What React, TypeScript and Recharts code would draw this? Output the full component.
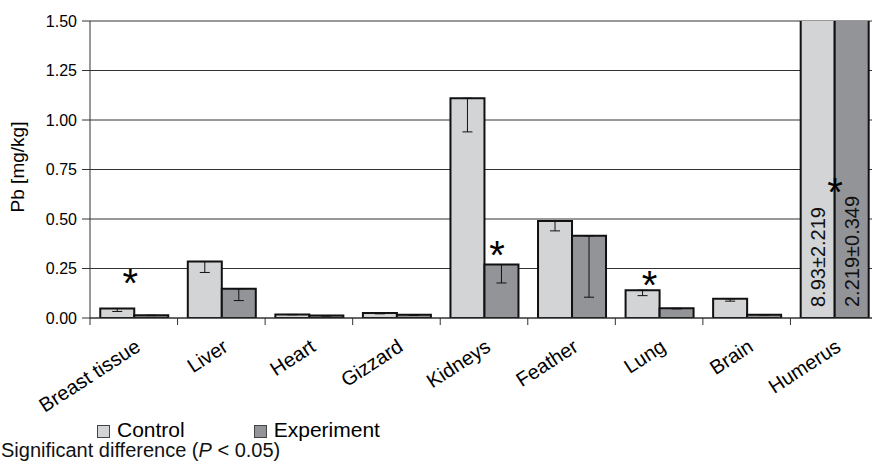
import { BarChart, Bar, XAxis, YAxis, CartesianGrid, ErrorBar, LabelList, ReferenceDot } from 'recharts';

const categories = ['Breast tissue', 'Liver', 'Heart', 'Gizzard', 'Kidneys', 'Feather', 'Lung', 'Brain', 'Humerus'];
const controlMean = [0.048, 0.285, 0.018, 0.025, 1.11, 0.49, 0.14, 0.097, 8.93];
const controlSd = [0.015, 0.055, 0.002, 0.004, 0.17, 0.05, 0.027, 0.012, 2.219];
const experimentMean = [0.014, 0.148, 0.012, 0.016, 0.27, 0.415, 0.049, 0.017, 2.219];
const experimentSd = [0.002, 0.06, 0.002, 0.003, 0.093, 0.31, 0.003, 0.002, 0.349];

// only the humerus values are off the scale, so they are written inside the bars
const offScale = ['Humerus'];

// significance stars, in data units (x along the category index, y in mg/kg)
const starX = [0.46, 4.65, 6.39, 8.51];
const starY = [0.217, 0.36, 0.209, 0.675];

const yTicks = [0, 0.25, 0.5, 0.75, 1, 1.25, 1.5];
// category boundaries, where the x axis has its tick marks
const edgeTicks = [0, 1, 2, 3, 4, 5, 6, 7, 8, 9];

const FONT = '"Liberation Sans", Arial, Helvetica, sans-serif';
const CONTROL = '#d3d4d6';
const EXPERIMENT = '#939498';

const data = categories.map((name, i) => ({
  name,
  pos: i + 0.5,
  control: controlMean[i],
  experiment: experimentMean[i],
  controlErr: [controlSd[i], 0],
  experimentErr: [experimentSd[i], 0],
  controlLabel: offScale.includes(name) ? `${controlMean[i]}±${controlSd[i]}` : '',
  experimentLabel: offScale.includes(name) ? `${experimentMean[i]}±${experimentSd[i]}` : '',
}));

function AngledTick(props: any) {
  const { x, y, payload } = props;
  const tx = x + 8;
  const ty = y + 31;
  return (
    <text
      x={tx}
      y={ty}
      textAnchor="end"
      transform={`rotate(-33, ${tx}, ${ty})`}
      fontSize={20}
      fontFamily={FONT}
      fill="#000"
    >
      {payload.value}
    </text>
  );
}

const NoLabel = () => <g />;

function InsideLabel(props: any) {
  const { x, y, width, height, value } = props;
  if (!value) return null;
  const cx = x + width / 2;
  const cy = y + height - 11;
  return (
    <text
      x={cx}
      y={cy}
      transform={`rotate(-90, ${cx}, ${cy})`}
      dominantBaseline="central"
      fontSize={20}
      fontFamily={FONT}
      fill="#111"
    >
      {value}
    </text>
  );
}

function Star(props: any) {
  const { cx, cy } = props;
  return (
    <text x={cx} y={cy + 22} textAnchor="middle" fontSize={40} fontFamily={FONT} fill="#000">
      *
    </text>
  );
}

function YTitle() {
  return (
    <text
      x={17}
      y={167}
      transform="rotate(-90, 17, 167)"
      textAnchor="middle"
      dominantBaseline="central"
      fontSize={19}
      fontFamily={FONT}
      fill="#000"
    >
      Pb [mg/kg]
    </text>
  );
}

function LegendItem({ color, label }: { color: string; label: string }) {
  return (
    <div style={{ display: 'flex', alignItems: 'center' }}>
      <span
        style={{
          display: 'inline-block',
          width: 11,
          height: 11,
          background: color,
          border: '1px solid #444',
          marginRight: 7,
          marginTop: 2,
        }}
      />
      <span>{label}</span>
    </div>
  );
}

export default function App() {
  return (
    <div
      style={{
        position: 'absolute',
        left: 0,
        top: 0,
        width: 872,
        height: 473,
        overflow: 'hidden',
        background: '#fff',
        fontFamily: FONT,
      }}
    >
      <BarChart
        width={882}
        height={421}
        data={data}
        margin={{ top: 21, right: 4, left: 30, bottom: 10 }}
        barCategoryGap="11.7%"
        barGap={0}
      >
        <CartesianGrid xAxisId="cat" vertical={false} stroke="#333" strokeWidth={1} />
        <XAxis
          xAxisId="cat"
          dataKey="name"
          height={92}
          interval={0}
          axisLine={false}
          tickLine={false}
          tickSize={0}
          tickMargin={0}
          tick={<AngledTick />}
        />
        <XAxis
          xAxisId="base"
          dataKey="pos"
          type="number"
          domain={[0, 9]}
          allowDataOverflow
          ticks={edgeTicks}
          interval={0}
          height={1}
          stroke="#333"
          tickLine={{ stroke: '#333' }}
          tickSize={7}
          tick={<NoLabel />}
        />
        <YAxis
          domain={[0, 1.5]}
          ticks={yTicks}
          allowDataOverflow
          width={60}
          tickSize={8}
          tickMargin={5}
          stroke="#333"
          tick={{ fontSize: 16, fill: '#000', fontFamily: FONT }}
          tickFormatter={(v: number) => v.toFixed(2)}
          label={<YTitle />}
        />
        <Bar xAxisId="cat" dataKey="control" name="Control" fill={CONTROL} stroke="#111" strokeWidth={2} isAnimationActive={false}>
          <ErrorBar dataKey="controlErr" direction="y" width={5} stroke="#111" strokeWidth={1} isAnimationActive={false} />
          <LabelList dataKey="controlLabel" content={<InsideLabel />} />
        </Bar>
        <Bar xAxisId="cat" dataKey="experiment" name="Experiment" fill={EXPERIMENT} stroke="#111" strokeWidth={2} isAnimationActive={false}>
          <ErrorBar dataKey="experimentErr" direction="y" width={5} stroke="#111" strokeWidth={1} isAnimationActive={false} />
          <LabelList dataKey="experimentLabel" content={<InsideLabel />} />
        </Bar>
        {starX.map((sx, i) => (
          <ReferenceDot key={i} xAxisId="base" x={sx} y={starY[i]} ifOverflow="visible" shape={<Star />} />
        ))}
      </BarChart>
      <div
        style={{
          position: 'absolute',
          left: 97,
          top: 420,
          fontSize: 21,
          lineHeight: '20px',
          display: 'flex',
          gap: 69,
          color: '#000',
        }}
      >
        <LegendItem color={CONTROL} label="Control" />
        <LegendItem color={EXPERIMENT} label="Experiment" />
      </div>
      <div
        style={{
          position: 'absolute',
          left: 1,
          top: 441,
          fontSize: 20,
          lineHeight: '19px',
          color: '#111',
          whiteSpace: 'nowrap',
        }}
      >
        Significant difference (<i>P</i> &lt; 0.05)
      </div>
    </div>
  );
}
